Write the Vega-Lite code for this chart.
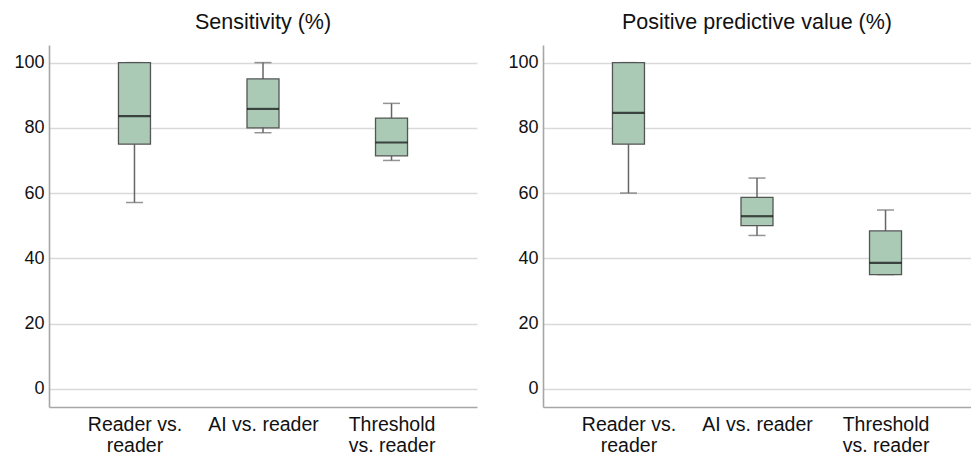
{
  "$schema": "https://vega.github.io/schema/vega-lite/v6.json",
  "padding": {"left": 13, "top": 11, "right": 0, "bottom": 0},
  "background": "white",
  "config": {
    "font": "Liberation Sans",
    "view": {"stroke": null},
    "concat": {"spacing": 30},
    "title": {"fontSize": 21.5, "fontWeight": "normal", "color": "#111", "anchor": "middle", "offset": 12},
    "axis": {"labelColor": "#111", "domainColor": "#a6a6a6", "domainWidth": 1.6, "gridColor": "#d9d9d9", "gridWidth": 1.5, "ticks": false}
  },
  "datasets": {
    "stats": [
      {"metric": "Sensitivity (%)", "method": "Reader vs. reader", "min": 57.1, "q1": 75, "median": 83.6, "q3": 100, "max": 100},
      {"metric": "Sensitivity (%)", "method": "AI vs. reader", "min": 78.5, "q1": 80, "median": 85.8, "q3": 95, "max": 100},
      {"metric": "Sensitivity (%)", "method": "Threshold vs. reader", "min": 70, "q1": 71.4, "median": 75.5, "q3": 83, "max": 87.5},
      {"metric": "Positive predictive value (%)", "method": "Reader vs. reader", "min": 60, "q1": 75, "median": 84.6, "q3": 100, "max": 100},
      {"metric": "Positive predictive value (%)", "method": "AI vs. reader", "min": 47, "q1": 50, "median": 52.9, "q3": 58.7, "max": 64.6},
      {"metric": "Positive predictive value (%)", "method": "Threshold vs. reader", "min": 35, "q1": 35, "median": 38.6, "q3": 48.4, "max": 54.8}
    ]
  },
  "hconcat": [
    {
      "title": "Sensitivity (%)",
      "width": 428,
      "height": 362,
      "data": {"name": "stats"},
      "transform": [{"filter": "datum.metric == 'Sensitivity (%)'"}],
      "encoding": {
        "x": {
          "field": "method", "type": "nominal",
          "sort": ["Reader vs. reader", "AI vs. reader", "Threshold vs. reader"],
          "scale": {"type": "point", "padding": 0.665},
          "axis": {"title": null, "labelAngle": 0, "labelFontSize": 19.5, "labelLineHeight": 21, "labelPadding": 8, "grid": false,
            "labelExpr": "datum.value == 'Reader vs. reader' ? ['Reader vs.', 'reader'] : datum.value == 'Threshold vs. reader' ? ['Threshold', 'vs. reader'] : datum.value"}
        }
      },
      "layer": [
        {"mark": {"type": "rule", "color": "#666", "strokeWidth": 1.5},
         "encoding": {"y": {"field": "min", "type": "quantitative", "scale": {"domain": [-5.6, 105.4], "nice": false, "zero": false},
            "axis": {"title": null, "values": [0, 20, 40, 60, 80, 100], "labelFontSize": 18, "labelPadding": 5, "grid": true}},
           "y2": {"field": "max"}}},
        {"mark": {"type": "tick", "color": "#666", "size": 17, "thickness": 1.5}, "encoding": {"y": {"field": "min", "type": "quantitative"}}},
        {"mark": {"type": "tick", "color": "#666", "size": 17, "thickness": 1.5}, "encoding": {"y": {"field": "max", "type": "quantitative"}}},
        {"mark": {"type": "bar", "size": 32, "fill": "#aacab6", "stroke": "#555", "strokeWidth": 1.3},
         "encoding": {"y": {"field": "q1", "type": "quantitative"}, "y2": {"field": "q3"}}},
        {"mark": {"type": "tick", "color": "#0a0a0a", "size": 32, "thickness": 2.2}, "encoding": {"y": {"field": "median", "type": "quantitative"}}}
      ]
    },
    {
      "title": "Positive predictive value (%)",
      "width": 428,
      "height": 362,
      "data": {"name": "stats"},
      "transform": [{"filter": "datum.metric == 'Positive predictive value (%)'"}],
      "encoding": {
        "x": {
          "field": "method", "type": "nominal",
          "sort": ["Reader vs. reader", "AI vs. reader", "Threshold vs. reader"],
          "scale": {"type": "point", "padding": 0.665},
          "axis": {"title": null, "labelAngle": 0, "labelFontSize": 19.5, "labelLineHeight": 21, "labelPadding": 8, "grid": false,
            "labelExpr": "datum.value == 'Reader vs. reader' ? ['Reader vs.', 'reader'] : datum.value == 'Threshold vs. reader' ? ['Threshold', 'vs. reader'] : datum.value"}
        }
      },
      "layer": [
        {"mark": {"type": "rule", "color": "#666", "strokeWidth": 1.5},
         "encoding": {"y": {"field": "min", "type": "quantitative", "scale": {"domain": [-5.6, 105.4], "nice": false, "zero": false},
            "axis": {"title": null, "values": [0, 20, 40, 60, 80, 100], "labelFontSize": 18, "labelPadding": 5, "grid": true}},
           "y2": {"field": "max"}}},
        {"mark": {"type": "tick", "color": "#666", "size": 17, "thickness": 1.5}, "encoding": {"y": {"field": "min", "type": "quantitative"}}},
        {"mark": {"type": "tick", "color": "#666", "size": 17, "thickness": 1.5}, "encoding": {"y": {"field": "max", "type": "quantitative"}}},
        {"mark": {"type": "bar", "size": 32, "fill": "#aacab6", "stroke": "#555", "strokeWidth": 1.3},
         "encoding": {"y": {"field": "q1", "type": "quantitative"}, "y2": {"field": "q3"}}},
        {"mark": {"type": "tick", "color": "#0a0a0a", "size": 32, "thickness": 2.2}, "encoding": {"y": {"field": "median", "type": "quantitative"}}}
      ]
    }
  ]
}
